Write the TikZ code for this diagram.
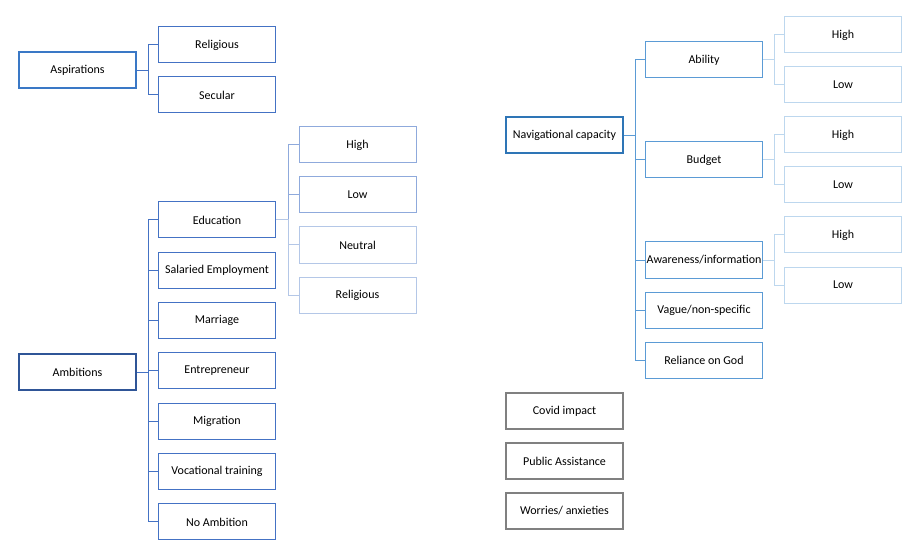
\documentclass[tikz,border=0pt]{standalone}
\usepackage{fontspec}
\setmainfont{Carlito}
\usepackage{xcolor}
\definecolor{wdblue}{HTML}{4472C4}
\definecolor{wddark}{HTML}{2F5597}
\definecolor{wdmid}{HTML}{3A78C6}
\definecolor{wdlite}{HTML}{8FAADC}
\definecolor{wdpale}{HTML}{B4C7E7}
\definecolor{skyblue}{HTML}{2E75B6}
\definecolor{skymid}{HTML}{5B9BD5}
\definecolor{skylite}{HTML}{BDD7EE}
\definecolor{greybox}{HTML}{808080}

\tikzset{
  box/.style={draw, fill=white, minimum width=117pt, minimum height=36pt, inner sep=0pt,
    font=\fontsize{12}{14}\selectfont, line width=1pt},
  rootbox/.style={box, line width=2pt},
  link/.style={line width=1pt},
}

\begin{document}
\begin{tikzpicture}[x=1pt, y=-1pt]
        \useasboundingbox (0,0) rectangle (913,548);
        % aspirations
        \node[rootbox, draw=wdmid] (asp) at (77.5,70.5) {Aspirations};
        \node[box, draw=wdblue] (asprel) at (217,45) {Religious};
        \node[box, draw=wdblue] (aspsec) at (217,95) {Secular};
        \draw[link, wdblue] (asp.east) -- ++(11,0) |- (asprel.west);
        \draw[link, wdblue] (asp.east) -- ++(11,0) |- (aspsec.west);

        % ambitions
        \node[rootbox, draw=wddark] (amb) at (77.5,372) {Ambitions};
        \foreach \name/\txt [count=\i from 0] in {edu/Education, sal/Salaried Employment,
            mar/Marriage, ent/Entrepreneur, mig/Migration, voc/Vocational training, noa/No Ambition} {
          \node[box, draw=wdblue] (\name) at (217,220+50.33*\i) {\txt};
          \draw[link, wdblue] (amb.east) -- ++(11,0) |- (\name.west);
        }
        \node[box, draw=wdlite] (eduhi) at (357.5,145) {High};
        \node[box, draw=wdlite] (edulo) at (357.5,195) {Low};
        \node[box, draw=wdpale] (edune) at (357.5,245) {Neutral};
        \node[box, draw=wdpale] (edure) at (357.5,295) {Religious};
        \draw[link, wdlite] (edu.east) -- ++(12,0) |- (eduhi.west);
        \draw[link, wdlite] (edu.east) -- ++(12,0) |- (edulo.west);
        \draw[link, wdpale] (edu.east) -- ++(12,0) |- (edune.west);
        \draw[link, wdpale] (edu.east) -- ++(12,0) |- (edure.west);

        % navigational capacity
        \node[rootbox, draw=skyblue] (nav) at (564.5,135.5) {Navigational capacity};
        \foreach \name/\txt/\y in {abl/Ability/60, bud/Budget/160, awa/Awareness\slash information/260,
            vag/Vague\slash non-specific/310, rog/Reliance on God/360} {
          \node[box, draw=skymid] (\name) at (704,\y) {\txt};
          \draw[link, skymid] (nav.east) -- ++(11,0) |- (\name.west);
        }
        \foreach \up/\y in {abl/35, bud/135, awa/235} {
          \node[box, draw=skylite] (\up hi) at (843,\y) {High};
          \node[box, draw=skylite] (\up lo) at (843,\y+50) {Low};
          \draw[link, skylite] (\up.east) -- ++(11,0) |- (\up hi.west);
          \draw[link, skylite] (\up.east) -- ++(11,0) |- (\up lo.west);
        }

        % loose themes
        \node[rootbox, draw=greybox] (cov) at (564.5,411) {Covid impact};
        \node[rootbox, draw=greybox] (pub) at (564.5,461) {Public Assistance};
        \node[rootbox, draw=greybox] (wor) at (564.5,511) {Worries/ anxieties};
\end{tikzpicture}
\end{document}
